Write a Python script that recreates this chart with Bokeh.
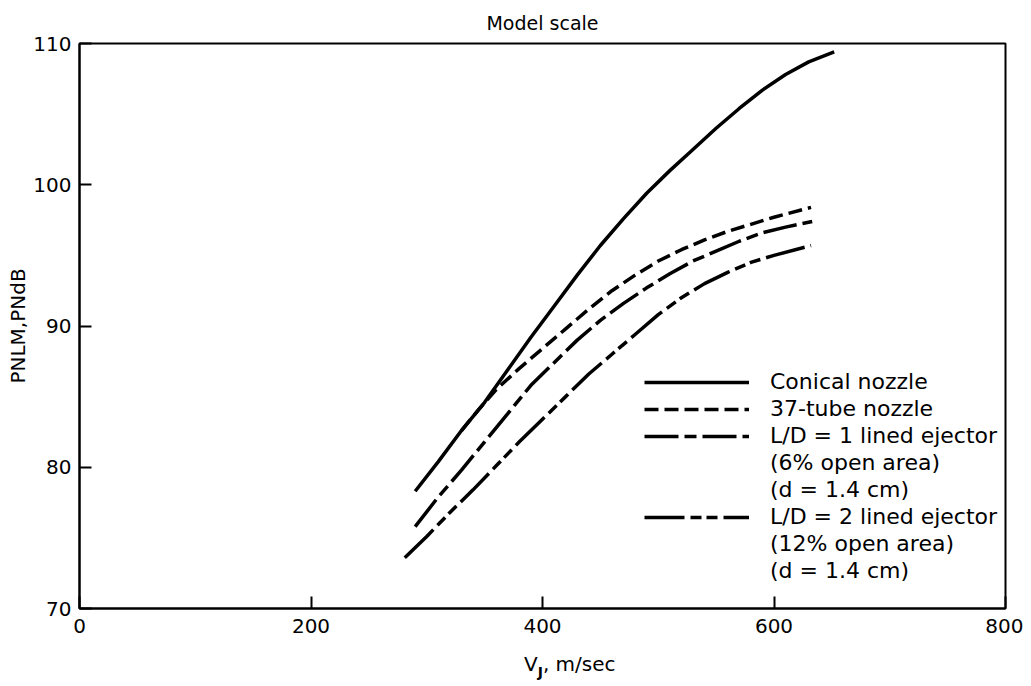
from bokeh.plotting import figure
from bokeh.models import Range1d, Legend, LegendItem, FixedTicker, ColumnDataSource, Div
from bokeh.layouts import column
from bokeh.embed import file_html
from bokeh.resources import INLINE

# ---- data ----
conical_x = [290, 310, 330, 350, 370, 390, 410, 430, 450, 470, 490, 510, 530, 550, 570, 590, 610, 630, 652]
conical_y = [78.3, 80.4, 82.6, 84.6, 86.9, 89.2, 91.4, 93.6, 95.7, 97.6, 99.4, 101.0, 102.5, 104.0, 105.4, 106.7, 107.8, 108.7, 109.4]

tube37_x = [330, 345, 360, 380, 400, 420, 440, 460, 480, 500, 520, 540, 560, 580, 600, 632]
tube37_y = [82.6, 84.1, 85.5, 87.0, 88.4, 89.8, 91.2, 92.5, 93.6, 94.6, 95.4, 96.1, 96.7, 97.2, 97.7, 98.4]

ld1_x = [290, 310, 330, 350, 370, 390, 410, 430, 450, 470, 490, 510, 530, 550, 570, 590, 610, 633]
ld1_y = [75.8, 77.9, 79.8, 81.8, 83.8, 85.8, 87.4, 89.0, 90.4, 91.6, 92.7, 93.7, 94.6, 95.3, 96.0, 96.6, 97.0, 97.4]

ld2_x = [281, 300, 320, 340, 360, 380, 400, 420, 440, 460, 480, 500, 520, 540, 560, 580, 600, 632]
ld2_y = [73.6, 75.1, 76.8, 78.4, 80.1, 81.8, 83.4, 85.0, 86.6, 88.0, 89.4, 90.8, 92.0, 93.0, 93.8, 94.5, 95.0, 95.7]

x_ticks = [0, 200, 400, 600, 800]
y_ticks = [70, 80, 90, 100, 110]

legend_labels = ["Conical nozzle", "37-tube nozzle", "L/D = 1 lined ejector",
                 "(6% open area)", "(d = 1.4 cm)", "L/D = 2 lined ejector",
                 "(12% open area)", "(d = 1.4 cm)"]

title_text = "Model scale"
y_label = "PNLM,PNdB"
x_label_main = "V"
x_label_sub = "J"
x_label_rest = ", m/sec"

FONT = "DejaVu Sans"

p = figure(width=1023, height=652, x_range=Range1d(0, 800), y_range=Range1d(70, 110),
           output_backend="svg", toolbar_location=None,
           min_border_left=79, min_border_right=18, min_border_top=42, min_border_bottom=44,
           title=title_text)

p.title.align = "center"
p.title.text_font = FONT
p.title.text_font_size = "19px"
p.title.text_font_style = "normal"
p.title.text_color = "black"
p.title.standoff = 19

p.grid.visible = False
p.background_fill_color = "white"
p.border_fill_color = "white"
p.outline_line_color = "black"
p.outline_line_width = 2
p.outline_line_alpha = 1

for ax, ticks in ((p.xaxis[0], x_ticks), (p.yaxis[0], y_ticks)):
    ax.ticker = FixedTicker(ticks=ticks)
    ax.major_tick_in = 12
    ax.major_tick_out = 0
    ax.minor_tick_line_color = None
    ax.major_tick_line_width = 2
    ax.major_tick_line_color = "black"
    ax.axis_line_width = 2
    ax.axis_line_color = "black"
    ax.major_label_text_font = FONT
    ax.major_label_text_font_size = "20px"
    ax.major_label_text_color = "black"

p.yaxis.major_label_standoff = 8
p.xaxis.major_label_standoff = 10
p.yaxis.axis_label = y_label
p.yaxis.axis_label_text_font = FONT
p.yaxis.axis_label_text_font_size = "20px"
p.yaxis.axis_label_text_font_style = "normal"
p.yaxis.axis_label_text_color = "black"
p.yaxis.axis_label_standoff = 0

LW = 3.5
r_con = p.line(conical_x, conical_y, line_color="black", line_width=LW)
r_37 = p.line(tube37_x, tube37_y, line_color="black", line_width=LW, line_dash="14 6")
r_ld1 = p.line(ld1_x, ld1_y, line_color="black", line_width=LW, line_dash="34 6 12 6")
r_ld2 = p.line(ld2_x, ld2_y, line_color="black", line_width=LW, line_dash="40 6 11 5 11 6")

# invisible renderer for continuation rows of the legend
blank_src = ColumnDataSource(data=dict(x=[], y=[]))
r_blank = p.line("x", "y", source=blank_src, line_alpha=0)

renderers = [r_con, r_37, r_ld1, r_blank, r_blank, r_ld2, r_blank, r_blank]
items = [LegendItem(label=lab, renderers=[r]) for lab, r in zip(legend_labels, renderers)]
legend = Legend(items=items, location=(565, 25), glyph_width=105, glyph_height=20,
                label_standoff=21, spacing=2, padding=0, margin=0,
                label_text_font=FONT, label_text_font_size="22px", label_text_color="black",
                background_fill_alpha=0, border_line_alpha=0)
p.add_layout(legend, "center")

# x axis label with subscript J, as real text below the figure
xlabel = Div(
    text=(f'<div style="font-family:\'{FONT}\';font-size:20px;line-height:24px;'
          f'color:black;padding-left:524px;white-space:nowrap;">'
          f'{x_label_main}<sub style="font-size:14px;font-weight:bold;vertical-align:-6px;">'
          f'{x_label_sub}</sub>{x_label_rest}</div>'),
    width=1023, height=26, margin=(0, 0, 0, 0))

layout = column(p, xlabel, spacing=0)

open("out.html", "w").write(file_html(layout, INLINE))
